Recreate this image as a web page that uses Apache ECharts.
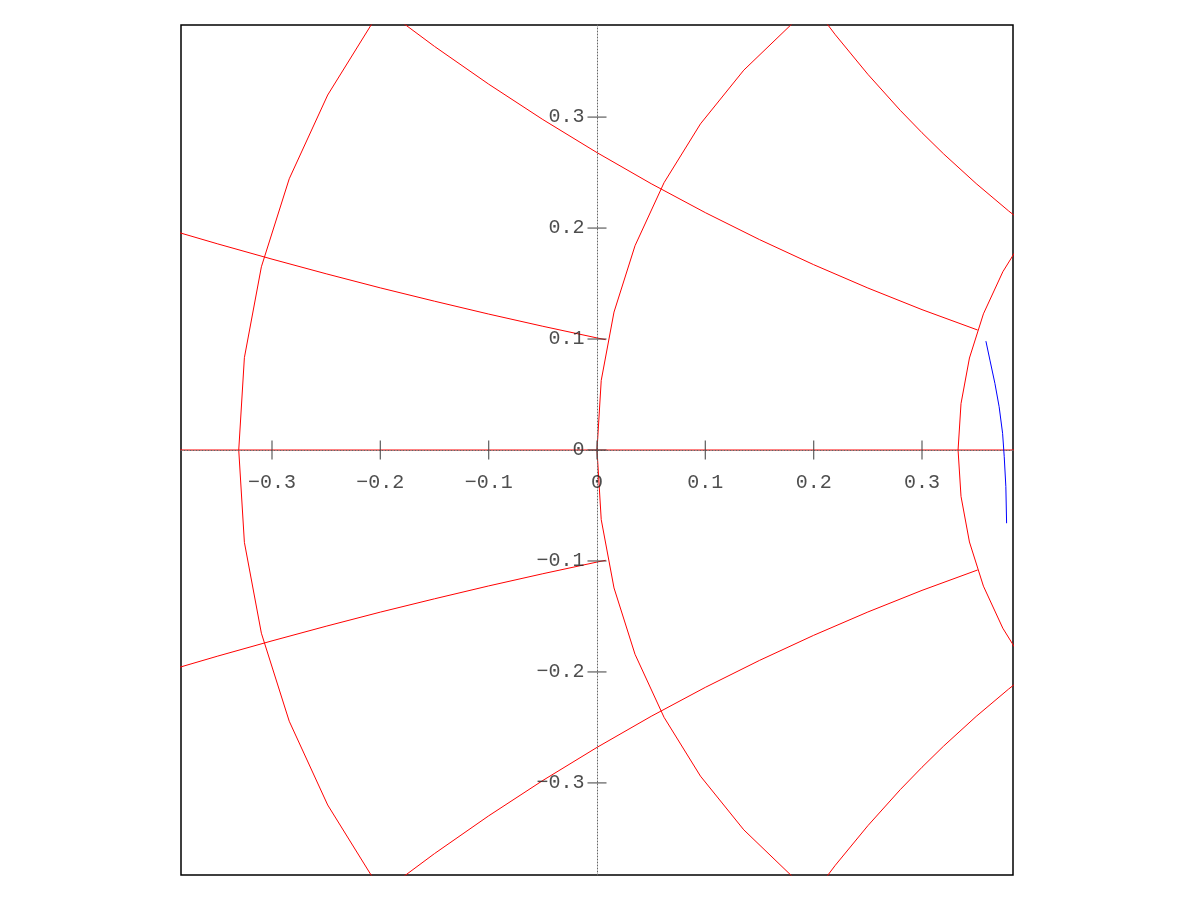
<!DOCTYPE html>
<html>
<head>
<meta charset="utf-8">
<script src="https://cdn.jsdelivr.net/npm/echarts@6/dist/echarts.min.js"></script>
<style>html,body{margin:0;padding:0;background:#fff;}#chart{width:1200px;height:900px;}</style>
</head>
<body>
<div id="chart"></div>
<script>
// Tick values and labels
const xTicks = [-0.3, -0.2, -0.1, 0, 0.1, 0.2, 0.3];
const xTickLabels = ['\u22120.3', '\u22120.2', '\u22120.1', '0', '0.1', '0.2', '0.3'];
const yTicks = [-0.3, -0.2, -0.1, 0, 0.1, 0.2, 0.3];
const yTickLabels = ['\u22120.3', '\u22120.2', '\u22120.1', '0', '0.1', '0.2', '0.3'];

// Real axis of the chart
const realAxis = [[-1, 0], [1, 0]];

// Constant-resistance circles (polygon vertices)
const rCircle05 = [[-0.2039, 0.3903], [-0.2486, 0.3199], [-0.2841, 0.2444], [-0.3098, 0.1651], [-0.3255, 0.0832], [-0.3307, 0],
  [-0.3255, -0.0832], [-0.3098, -0.1651], [-0.2841, -0.2444], [-0.2486, -0.3199], [-0.2039, -0.3903]];
const rCircle1 = [[0.1813, 0.3853], [0.1355, 0.3423], [0.0955, 0.2939], [0.0619, 0.2409], [0.0351, 0.1841], [0.0157, 0.1243], [0.0039, 0.0627], [0, 0],
  [0.0039, -0.0627], [0.0157, -0.1243], [0.0351, -0.1841], [0.0619, -0.2409], [0.0955, -0.2939], [0.1355, -0.3423], [0.1813, -0.3853]];
const rCircle2 = [[0.3970, 0.1959], [0.3746, 0.1606], [0.3567, 0.1227], [0.3438, 0.0829], [0.3360, 0.0418], [0.3333, 0],
  [0.3360, -0.0418], [0.3438, -0.0829], [0.3567, -0.1227], [0.3746, -0.1606], [0.3970, -0.1959]];

// Constant-reactance arcs
const xArc02Upper = [[-0.40, 0.2000], [-0.35, 0.1857], [-0.30, 0.1720], [-0.25, 0.1588], [-0.20, 0.1461], [-0.15, 0.1341], [-0.10, 0.1225], [-0.05, 0.1115], [0, 0.1010], [0.0080, 0.0994]];
const xArc02Lower = [[-0.40, -0.2000], [-0.35, -0.1857], [-0.30, -0.1720], [-0.25, -0.1588], [-0.20, -0.1461], [-0.15, -0.1341], [-0.10, -0.1225], [-0.05, -0.1115], [0, -0.1010], [0.0080, -0.0994]];
const xArc05Upper = [[-0.20, 0.4000], [-0.15, 0.3637], [-0.10, 0.3297], [-0.05, 0.2978], [0, 0.2680], [0.05, 0.2400], [0.10, 0.2139], [0.15, 0.1896], [0.20, 0.1670], [0.25, 0.1460], [0.30, 0.1265], [0.3514, 0.1081]];
const xArc05Lower = [[-0.20, -0.4000], [-0.15, -0.3637], [-0.10, -0.3297], [-0.05, -0.2978], [0, -0.2680], [0.05, -0.2400], [0.10, -0.2139], [0.15, -0.1896], [0.20, -0.1670], [0.25, -0.1460], [0.30, -0.1265], [0.3514, -0.1081]];
const xArc1Upper = [[0.20, 0.4000], [0.22, 0.3742], [0.25, 0.3386], [0.28, 0.3060], [0.30, 0.2859], [0.32, 0.2668], [0.35, 0.2401], [0.38, 0.2154], [0.40, 0.2000]];
const xArc1Lower = [[0.20, -0.4000], [0.22, -0.3742], [0.25, -0.3386], [0.28, -0.3060], [0.30, -0.2859], [0.32, -0.2668], [0.35, -0.2401], [0.38, -0.2154], [0.40, -0.2000]];

// Blue trace
const trace = [[0.3590, 0.0981], [0.3627, 0.0810], [0.3673, 0.0600], [0.3712, 0.0390], [0.3744, 0.0150], [0.3759, -0.0060], [0.3774, -0.0330], [0.3781, -0.0660]];

const chart = echarts.init(document.getElementById('chart'), null, {renderer: 'canvas'});

const red = '#ff0000';
function redLine(data) {
  return {type: 'line', data: data, symbol: 'none', smooth: false, clip: true, silent: true,
    lineStyle: {color: red, width: 1}, z: 2};
}

const tickColor = '#444';
const labelFont = {fontFamily: 'Liberation Mono', fontSize: 20, color: '#222'};

chart.setOption({
  animation: false,
  backgroundColor: '#fff',
  grid: {left: 181, top: 25, width: 832, height: 850, show: true, borderColor: '#000', borderWidth: 1.5,
    backgroundColor: 'transparent', containLabel: false, outerBoundsMode: 'none'},
  xAxis: {
    type: 'value', min: -0.384, max: 0.384, splitNumber: 8,
    z: 3,
    axisLine: {show: true, onZero: true, lineStyle: {color: '#666', type: [1, 2], width: 1}},
    axisTick: {show: false},
    splitLine: {show: false},
    axisLabel: {show: false}
  },
  yAxis: {
    type: 'value', min: -0.383, max: 0.383, splitNumber: 8,
    z: 3,
    axisLine: {show: true, onZero: true, lineStyle: {color: '#666', type: [1, 2], width: 1}},
    axisTick: {show: false},
    splitLine: {show: false},
    axisLabel: {show: false}
  },
  series: [
    redLine(realAxis),
    redLine(rCircle05),
    redLine(rCircle1),
    redLine(rCircle2),
    redLine(xArc02Upper),
    redLine(xArc02Lower),
    redLine(xArc05Upper),
    redLine(xArc05Lower),
    redLine(xArc1Upper),
    redLine(xArc1Lower),
    {type: 'line', data: trace, symbol: 'none', smooth: false, clip: true, silent: true,
      lineStyle: {color: '#0000ff', width: 1}, z: 4},
    {type: 'scatter', data: xTicks.map(v => [v, 0]), symbol: 'rect', symbolSize: [1.3, 19], silent: true,
      itemStyle: {color: tickColor}, z: 5,
      label: Object.assign({show: true, position: 'bottom', distance: 13,
        formatter: p => xTickLabels[p.dataIndex]}, labelFont)},
    {type: 'scatter', data: yTicks.map(v => [0, v]), symbol: 'rect', symbolSize: [19, 1.3], silent: true,
      itemStyle: {color: tickColor}, z: 5,
      label: Object.assign({show: true, position: 'left', distance: 3,
        formatter: p => yTickLabels[p.dataIndex]}, labelFont)}
  ]
});
</script>
</body>
</html>
